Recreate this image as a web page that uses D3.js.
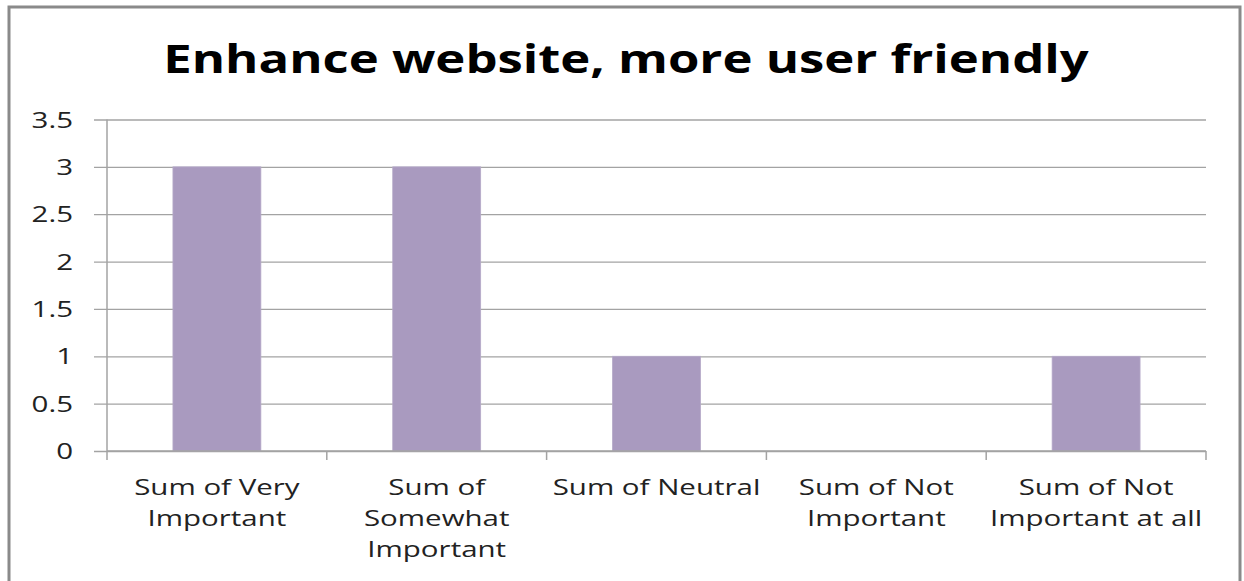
<!DOCTYPE html>
<html>
<head>
<meta charset="utf-8">
<script src="https://cdn.jsdelivr.net/npm/d3@7"></script>
<style>
  html, body { margin: 0; padding: 0; background: #fff; }
  svg { display: block; }
</style>
</head>
<body>
<svg id="chart" width="1244" height="581"></svg>
<script>
const title = "Enhance website, more user friendly";
const categories = [
  ["Sum of Very", "Important"],
  ["Sum of", "Somewhat", "Important"],
  ["Sum of Neutral"],
  ["Sum of Not", "Important"],
  ["Sum of Not", "Important at all"]
];
const values = [3, 3, 1, 0, 1];
const yTicks = [0, 0.5, 1, 1.5, 2, 2.5, 3, 3.5];

(function () {
const svg = d3.select("#chart");
const font = "'Open Sans', 'DejaVu Sans', sans-serif";
const gridColor = "#a3a3a3";
const textColor = "#222";
const sx = 1.34;      // horizontal stretch of the reference text
const titleSx = 1.27;

const pLeft = 107, pRight = 1206, pTop = 119.5, pBottom = 451;

// outer frame
svg.append("rect")
  .attr("x", 9).attr("y", 7).attr("width", 1231).attr("height", 600)
  .attr("fill", "#fff").attr("stroke", "#8a8a8a").attr("stroke-width", 3);

const x = d3.scaleBand().domain(d3.range(categories.length)).range([pLeft, pRight]).paddingInner(0).paddingOuter(0);
const y = d3.scaleLinear().domain([0, 3.5]).range([pBottom, pTop]);

// y axis with gridlines
const yAxis = d3.axisLeft(y).tickValues(yTicks).tickSize(-(pRight - pLeft)).tickPadding(20)
  .tickFormat(d3.format("~g"));
const gy = svg.append("g").attr("transform", `translate(${pLeft},0)`).call(yAxis);
gy.select(".domain").remove();
gy.selectAll(".tick line").attr("stroke", gridColor).attr("stroke-width", 1.3).attr("x1", -13);
gy.selectAll(".tick text").attr("font-family", font).attr("font-size", 22).attr("fill", textColor)
  .attr("x", 0).attr("dy", "0.35em")
  .attr("transform", `translate(-34,0) scale(${sx},1)`);

// bars
const bw = x.bandwidth();
svg.append("g").selectAll("rect").data(values).join("rect")
  .attr("x", (d, i) => x(i) + bw * 0.3)
  .attr("width", bw * 0.4)
  .attr("y", d => y(d))
  .attr("height", d => y(0) - y(d))
  .attr("fill", "#a99abf")
  .attr("stroke", "#b5a9c8").attr("stroke-width", 0.8);

// y axis line
svg.append("line").attr("x1", pLeft).attr("x2", pLeft).attr("y1", pTop).attr("y2", pBottom + 1)
  .attr("stroke", gridColor).attr("stroke-width", 1.5);

// x axis
const xTickPos = d3.range(categories.length + 1).map(i => pLeft + i * bw);
svg.append("line").attr("x1", pLeft).attr("x2", pRight).attr("y1", pBottom).attr("y2", pBottom)
  .attr("stroke", gridColor).attr("stroke-width", 1.5);
svg.append("g").selectAll("line").data(xTickPos).join("line")
  .attr("x1", d => d).attr("x2", d => d).attr("y1", pBottom).attr("y2", pBottom + 9)
  .attr("stroke", gridColor).attr("stroke-width", 1.5);

// category labels
const lab = svg.append("g").selectAll("text").data(categories).join("text")
  .attr("text-anchor", "middle")
  .attr("font-family", font).attr("font-size", 22).attr("fill", textColor)
  .attr("transform", (d, i) => `translate(${x(i) + bw / 2},495) scale(${sx},1)`)
  .attr("x", 0).attr("y", 0);
lab.selectAll("tspan").data(d => d).join("tspan")
  .attr("x", 0)
  .attr("dy", (d, i) => i === 0 ? 0 : 31)
  .text(d => d);

// title
svg.append("text").attr("text-anchor", "middle")
  .attr("transform", `translate(626,73) scale(${titleSx},1)`)
  .attr("font-family", font).attr("font-weight", "bold").attr("font-size", 40).attr("fill", "#000")
  .text(title);
})();
</script>
</body>
</html>
